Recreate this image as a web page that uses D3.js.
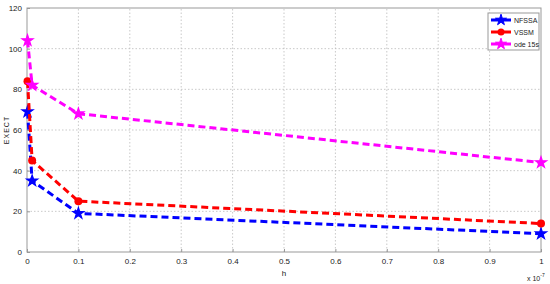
<!DOCTYPE html>
<html>
<head>
<meta charset="utf-8">
<script src="https://cdn.jsdelivr.net/npm/d3@7"></script>
<style>
body { margin: 0; background: #fff; }
text { font-family: "Liberation Sans", Arial, sans-serif; fill: #222; }
.grid line { stroke: #bbb; stroke-dasharray: 1.5,2; stroke-width: 0.8; }
.axis path, .axis line { stroke: #999; }
</style>
</head>
<body>
<script>
// step sizes h (in units of 1e-7)
var hValues = [0.001, 0.01, 0.1, 1];
var nfssa = [69, 35, 19, 9];
var vssm = [84, 45, 25, 14];
var ode15s = [104, 82, 68, 44];
var xTicks = [0, 0.1, 0.2, 0.3, 0.4, 0.5, 0.6, 0.7, 0.8, 0.9, 1];
var yTicks = [0, 20, 40, 60, 80, 100, 120];

var series = [
	{name: "NFSSA", values: nfssa, color: "#0000ff", marker: "star"},
	{name: "VSSM", values: vssm, color: "#ff0000", marker: "circle"},
	{name: "ode 15s", values: ode15s, color: "#ff00ff", marker: "star"}
];

var width = 550, height = 284;
var margin = {left: 27, right: 9, top: 8, bottom: 32};

var svg = d3.select("body").append("svg")
	.attr("width", width)
	.attr("height", height);

var x = d3.scaleLinear().domain([0, 1]).range([margin.left, width - margin.right]);
var y = d3.scaleLinear().domain([0, 120]).range([height - margin.bottom, margin.top]);

//grid
var grid = svg.append("g").attr("class", "grid");
grid.selectAll(".gx").data(xTicks.slice(1, -1)).enter().append("line")
	.attr("x1", function(d){ return x(d); }).attr("x2", function(d){ return x(d); })
	.attr("y1", y(0)).attr("y2", y(120));
grid.selectAll(".gy").data(yTicks.slice(1, -1)).enter().append("line")
	.attr("y1", function(d){ return y(d); }).attr("y2", function(d){ return y(d); })
	.attr("x1", x(0)).attr("x2", x(1));

//frame
svg.append("rect")
	.attr("x", x(0)).attr("y", y(120))
	.attr("width", x(1) - x(0)).attr("height", y(0) - y(120))
	.attr("fill", "none").attr("stroke", "#999");

//axes
var xAxis = svg.append("g").attr("class", "axis")
	.attr("transform", "translate(0," + y(0) + ")")
	.call(d3.axisBottom(x).tickValues(xTicks).tickSize(-3).tickPadding(6).tickFormat(d3.format("")));
var yAxis = svg.append("g").attr("class", "axis")
	.attr("transform", "translate(" + x(0) + ",0)")
	.call(d3.axisLeft(y).tickValues(yTicks).tickSize(-3).tickPadding(5));
svg.selectAll(".axis text").style("font-size", "8px").attr("fill", "#222");
svg.selectAll(".axis .domain").remove();

//labels
svg.append("text").attr("x", x(0.5)).attr("y", 276)
	.attr("text-anchor", "middle").style("font-size", "8px").text("h");
svg.append("text")
	.attr("transform", "translate(9," + y(60) + ") rotate(-90)")
	.attr("text-anchor", "middle").style("font-size", "7px").style("letter-spacing", "1px").text("EXECT");
var mult = svg.append("text").attr("x", 527).attr("y", 281).style("font-size", "7px");
mult.append("tspan").text("x 10");
mult.append("tspan").attr("dy", -4).style("font-size", "5px").text("-7");

var line = d3.line()
	.x(function(d, i){ return x(hValues[i]); })
	.y(function(d){ return y(d); });

var starPath = d3.symbol().type(d3.symbolStar).size(38);

series.forEach(function(s){
	svg.append("path")
		.datum(s.values)
		.attr("d", line)
		.attr("fill", "none")
		.attr("stroke", s.color)
		.attr("stroke-width", 3)
		.attr("stroke-dasharray", "7,4");
	var g = svg.selectAll(null).data(s.values).enter().append("g")
		.attr("transform", function(d, i){ return "translate(" + x(hValues[i]) + "," + y(d) + ")"; });
	if (s.marker == "circle") {
		g.append("circle").attr("r", 4).attr("fill", s.color);
	} else {
		g.append("path").attr("d", starPath()).attr("fill", s.color).attr("stroke", s.color).attr("stroke-width", 1.2);
	}
});

//legend
var legend = svg.append("g").attr("transform", "translate(488,13)");
legend.append("rect").attr("width", 51).attr("height", 37)
	.attr("fill", "#fff").attr("stroke", "#999");
series.forEach(function(s, i){
	var ly = 7 + i * 12;
	legend.append("line").attr("x1", 3).attr("x2", 23).attr("y1", ly).attr("y2", ly)
		.attr("stroke", s.color).attr("stroke-width", 3);
	if (s.marker == "circle") {
		legend.append("circle").attr("cx", 13).attr("cy", ly).attr("r", 3.5).attr("fill", s.color);
	} else {
		legend.append("path").attr("transform", "translate(13," + ly + ")")
			.attr("d", starPath()).attr("fill", s.color).attr("stroke", s.color);
	}
	legend.append("text").attr("x", 26).attr("y", ly + 2.5).style("font-size", "7px").text(s.name);
});
</script>
</body>
</html>
